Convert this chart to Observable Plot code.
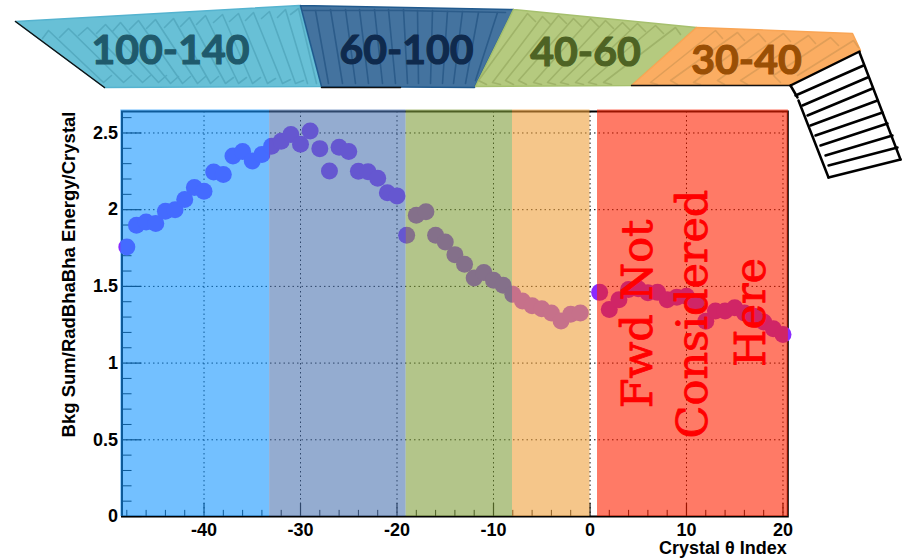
<!DOCTYPE html>
<html>
<head>
<meta charset="utf-8">
<script src="https://cdn.jsdelivr.net/npm/d3@7"></script>
<script src="https://cdn.jsdelivr.net/npm/@observablehq/plot@0.6"></script>
<style>
html,body{margin:0;padding:0;background:#fff}
#wrap{position:relative;width:902px;height:558px;overflow:hidden}
#wrap svg{position:absolute;left:0;top:0;background:transparent;overflow:visible}
</style>
</head>
<body>
<div id="wrap"></div>
<script>
// ---------- chart data ----------
const crystalIndex = [-48,-47,-46,-45,-44,-43,-42,-41,-40,-39,-38,-37,-36,-35,-34,-33,-32,-31,-30,-29,-28,-27,-26,-25,-24,-23,-22,-21,-20,-19,-18,-17,-16,-15,-14,-13,-12,-11,-10,-9,-8,-7,-6,-5,-4,-3,-2,-1,1,2,3,4,5,6,7,8,9,10,11,12,13,14,15,16,17,18,19,20];
const bkgEnergy = [1.757,1.898,1.92,1.91,1.99,2.0,2.066,2.144,2.12,2.246,2.23,2.35,2.38,2.318,2.36,2.413,2.446,2.49,2.427,2.513,2.398,2.252,2.407,2.38,2.25,2.248,2.205,2.11,2.09,1.833,1.963,1.987,1.833,1.79,1.707,1.644,1.555,1.59,1.54,1.507,1.448,1.405,1.374,1.354,1.326,1.274,1.318,1.326,1.461,1.35,1.413,1.479,1.485,1.459,1.461,1.413,1.43,1.435,1.39,1.272,1.34,1.34,1.36,1.326,1.305,1.268,1.224,1.187];
const xMajor = [-40,-30,-20,-10,0,10,20];
const xMinor = [-48,-46,-44,-42,-38,-36,-34,-32,-28,-26,-24,-22,-18,-16,-14,-12,-8,-6,-4,-2,2,4,6,8,12,14,16,18];
const yMajor = [0,0.5,1,1.5,2,2.5];
const yMinor = [0.1,0.2,0.3,0.4,0.6,0.7,0.8,0.9,1.1,1.2,1.3,1.4,1.6,1.7,1.8,1.9,2.1,2.2,2.3,2.4,2.6];
const bandStart = [-48.62,-33.2,-19.05,-8.03,0.78];
const bandEnd   = [-33.2,-19.05,-8.03,0,20.56];
const bandColor = ["#1696ff","#4d75b1","#809e3c","#eea03c","#ff2100"];
const noteText = ["Fwd Not","Considered","Here"];
const noteX = [6.4,12.15,18.1];
const noteY = [1.32,1.32,1.33];

// ---------- detector schematic (drawn on a pixel-unit plot) ----------
const regionNames = ["100-140","60-100","40-60","30-40"];
const regionLabelX = [170,406,585,746];
const regionLabelY = [50,50,52,60];
const regionLabelColor = ["#1f5a6c","#0f2a4d","#4e6324","#9a4f05"];
const regionFill = ["#68c0d6","#44739f","#b5ca7f","#fbad62"];
const regionEdge = ["#55b3cf","#215a8e","#a6c06e","#f9a555"];
const regionHatch = ["#55abc1","#2c5c8a","#9fb369","#e09e58"];
const regionOutline = [
  [[15,21],[299,5],[321,86],[104,87]],
  [[300,5],[513,9],[474,87],[321,86]],
  [[513,9],[696,27],[631,85],[475,86]],
  [[696,27],[852,33],[860,50],[790,84],[631,85]]
];
const tealHatch = [
  [42,38,48,30,103,82,111,75],[59,37,68,28,123,82,131,75],[78,35,87,27,142,82,150,75],[96,33,105,24,158,82,166,75],
  [112,31,120,22,170,83,178,76],[129,29,138,20,182,83,190,76],[146,28,155,19,197,83,205,76],[164,27,173,18,210,83,218,76],
  [180,26,189,17,225,83,233,77],[196,24,205,15,238,83,246,77],[213,22,222,14,252,83,260,77],[229,21,238,13,267,83,275,78],
  [245,20,253,12,282,83,290,79],[261,18,269,11,295,83,303,80],[277,17,285,9,307,83],[290,14,298,8,316,83]
];
const blueHatch = [
  [315,10,328,83],[330,9,342,83],[345,9,355,83],[359,9,368,83],[374,9,382,83],[388,9,395,83],
  [403,9,407,83],[417,10,418,83],[432,10,430,83],[447,11,442,83],[462,11,453,83],[478,12,465,83],[497,12,475,80],
  [302,10,400,10,505,12]
];
const greenHatch = [
  [535,21,527,13,478,80,486,84],[550,24,542,16,492,82,500,84],[566,23,558,15,505,80,513,84],[581,26,573,18,518,80,526,84],
  [598,26,590,18,533,82,541,84],[613,28,605,20,547,82,555,84],[630,30,622,22,560,82,568,84],[645,31,637,23,575,82,583,84],
  [663,33,655,25,588,82,596,84],[680,34,675,27,603,82,611,84]
];
const orangeHatch = [
  [722,38,715,30,650,82,657,84],[744,40,737,32,670,80,677,84],[765,41,758,33,693,82,700,84],[790,41,783,33,717,80,724,84],
  [815,43,808,35,740,80,747,84],[838,45,830,37,773,75,780,82],[858,47,853,40,797,75]
];
const ladderEdges = [
  [790,85,797,97],[798,100,828,177],[859,52,900,159],[790,85,859,51],
  [795,95,863,65],[802,105,867,77],[807,115,872,88],[810,125,877,100],[815,135,882,112],
  [820,145,887,123],[825,155,892,135],[828,165,897,147],[828,177,900,159]
];
const darkEdge = [[15,21,104,87],[321,87,400,87],[631,85,790,85]];

const toPath = (row, i, key) => {
  const pts = [];
  for (let k = 0; k < row.length; k += 2) pts.push({x: row[k], y: row[k+1], id: key + i});
  return pts;
};
const hatchMark = (rows, key, color) =>
  Plot.line(rows.flatMap((r, i) => toPath(r, i, key)), {x:"x", y:"y", z:"id", stroke:color, strokeWidth:1.6, curve:"linear"});

const schematic = Plot.plot({
  width: 902, height: 180, margin: 0,
  x: {domain:[0,902], range:[0,902], axis:null},
  y: {domain:[0,180], range:[0,180], axis:null},
  marks: [
    ...regionOutline.map((poly, i) =>
      Plot.line([...poly, poly[0]], {x:d=>d[0], y:d=>d[1], fill:regionFill[i], stroke:regionEdge[i], strokeWidth:1.5, curve:"linear"})),
    hatchMark(tealHatch, "t", regionHatch[0]),
    hatchMark(blueHatch, "b", regionHatch[1]),
    hatchMark(greenHatch, "g", regionHatch[2]),
    hatchMark(orangeHatch, "o", regionHatch[3]),
    Plot.line(darkEdge.flatMap((r,i)=>toPath(r,i,"d")), {x:"x", y:"y", z:"id", stroke:"#111", strokeWidth:1.5}),
    Plot.line(ladderEdges.flatMap((r,i)=>toPath(r,i,"l")), {x:"x", y:"y", z:"id", stroke:"#000", strokeWidth:2.5}),
    Plot.text(regionNames, {
      x:(d,i)=>regionLabelX[i], y:(d,i)=>regionLabelY[i], text:d=>d,
      fill:(d,i)=>regionLabelColor[i], stroke:(d,i)=>regionLabelColor[i], strokeWidth:1.1,
      fontSize:41, fontWeight:"bold", fontFamily:"Lato"
    })
  ]
});

const points = crystalIndex.map((x,i)=>({x, y:bkgEnergy[i]}));
const bands = bandStart.map((x1,i)=>({x1, x2:bandEnd[i], fill:bandColor[i]}));
const sans = "Liberation Sans";

const chart = Plot.plot({
  width: 902, height: 558,
  marginTop: 111, marginBottom: 42, marginLeft: 121.5, marginRight: 114.7,
  x: {domain:[-48.5,20.5]},
  y: {domain:[0,2.64]},
  marks: [
    Plot.ruleX(xMajor, {stroke:"#000", strokeWidth:1, strokeDasharray:"1.5 3"}),
    Plot.ruleY(yMajor, {stroke:"#000", strokeWidth:1, strokeDasharray:"1.5 3"}),
    Plot.ruleX(xMinor, {y1:0, y2:0.04, stroke:"#000", strokeWidth:1}),
    Plot.ruleX(xMajor, {y1:0, y2:0.085, stroke:"#000", strokeWidth:1.2}),
    Plot.ruleY(yMinor, {x1:-48.5, x2:-47.46, stroke:"#000", strokeWidth:1}),
    Plot.ruleY(yMajor, {x1:-48.5, x2:-46.42, stroke:"#000", strokeWidth:1.2}),
    Plot.frame({stroke:"#000", strokeWidth:2}),
    Plot.dot(points, {x:"x", y:"y", r:8.5, fill:"#8a2bff", stroke:"none"}),
    Plot.rect(bands, {x1:"x1", x2:"x2", y1:()=>0, y2:()=>2.65, fill:"fill", fillOpacity:0.6, stroke:"none", inset:0}),
    Plot.axisX({ticks:xMajor, tickSize:0, tickPadding:7, tickFormat:d=>String(d), label:null, fontSize:18, fontWeight:"bold", fontFamily:sans, fill:"#000"}),
    Plot.axisY({ticks:yMajor, tickSize:0, tickPadding:4, tickFormat:d=>String(d), label:null, fontSize:18, fontWeight:"bold", fontFamily:sans, fill:"#000"}),
    Plot.text(["Crystal θ Index"], {frameAnchor:"bottom-right", textAnchor:"end", dx:-1, dy:37, fontSize:18, fontWeight:"bold", fontFamily:sans, fill:"#000"}),
    Plot.text(["Bkg Sum/RadBhaBha Energy/Crystal"], {frameAnchor:"top-left", textAnchor:"end", rotate:-90, dx:-60, dy:0, fontSize:18.5, fontWeight:"bold", fontFamily:sans, fill:"#000"}),
    Plot.text(noteText, {x:(d,i)=>noteX[i], y:(d,i)=>noteY[i], text:d=>d, rotate:-90, fontSize:43, fontFamily:"DejaVu Serif", fill:"#ff0000", stroke:"#ff0000", strokeWidth:0.9, lineAnchor:"bottom"})
  ]
});

const wrap = document.getElementById("wrap");
wrap.appendChild(schematic);
wrap.appendChild(chart);
</script>
</body>
</html>
